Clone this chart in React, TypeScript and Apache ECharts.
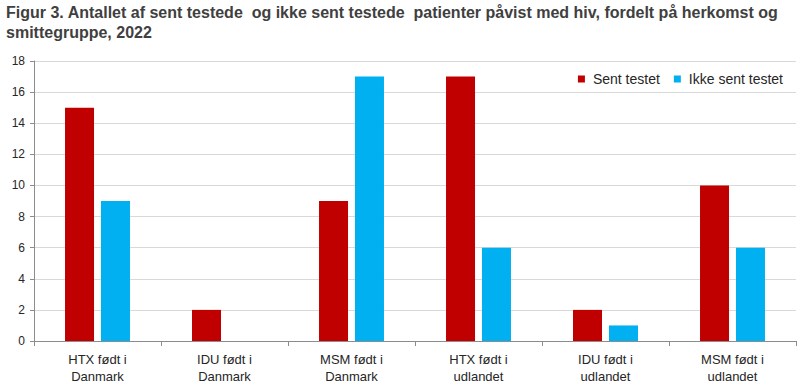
import React, { useEffect, useRef } from "react";
import * as echarts from "echarts";

const categories = [
  "HTX født i\nDanmark",
  "IDU født i\nDanmark",
  "MSM født i\nDanmark",
  "HTX født i\nudlandet",
  "IDU født i\nudlandet",
  "MSM født i\nudlandet",
];
const sentTestet = [15, 2, 9, 17, 2, 10];
const ikkeSentTestet = [9, 0, 17, 6, 1, 6];
const seriesNames = ["Sent testet", "Ikke sent testet"];
const titleText =
  "Figur 3. Antallet af sent testede  og ikke sent testede  patienter påvist med hiv, fordelt på herkomst og\nsmittegruppe, 2022";

export default function App() {
  const ref = useRef<HTMLDivElement>(null);
  useEffect(() => {
    if (!ref.current) return;
    const chart = echarts.init(ref.current, undefined, { renderer: "svg" });
    const font = "'Liberation Sans', 'DejaVu Sans', sans-serif";
    chart.setOption({
      animation: false,
      backgroundColor: "#ffffff",
      textStyle: { fontFamily: font },
      title: {
        text: titleText,
        left: 1,
        top: -3,
        textStyle: {
          fontFamily: font,
          fontSize: 16,
          fontWeight: "bold",
          color: "#404040",
          lineHeight: 20,
        },
      },
      legend: {
        data: seriesNames,
        right: 12,
        top: 67,
        icon: "rect",
        itemWidth: 7,
        itemHeight: 7,
        itemGap: 14,
        textStyle: {
          fontFamily: font,
          fontSize: 14,
          color: "#262626",
          padding: [0, 0, 0, 3],
        },
      },
      grid: { left: 34, right: 4, top: 61, bottom: 46, containLabel: false },
      xAxis: {
        type: "category",
        data: categories,
        axisLine: { show: true, lineStyle: { color: "#8c8c8c" } },
        axisTick: { show: true, alignWithLabel: false, length: 5, lineStyle: { color: "#8c8c8c" } },
        axisLabel: {
          fontFamily: font,
          fontSize: 13,
          color: "#262626",
          lineHeight: 17,
          margin: 10,
        },
      },
      yAxis: {
        type: "value",
        min: 0,
        max: 18,
        interval: 2,
        axisLine: { show: true, lineStyle: { color: "#8c8c8c" } },
        axisTick: { show: true, length: 4, lineStyle: { color: "#8c8c8c" } },
        axisLabel: { fontFamily: font, fontSize: 12, color: "#262626", margin: 9 },
        splitLine: { show: true, lineStyle: { color: "#d9d9d9" } },
      },
      series: [
        {
          name: seriesNames[0],
          type: "bar",
          data: sentTestet,
          itemStyle: { color: "#c00000" },
          barWidth: 29,
          barGap: "24%",
        },
        {
          name: seriesNames[1],
          type: "bar",
          data: ikkeSentTestet,
          itemStyle: { color: "#00b0f0" },
          barWidth: 29,
          barGap: "24%",
        },
      ],
    });
    return () => chart.dispose();
  }, []);
  return (
    <div
      ref={ref}
      style={{ position: "fixed", left: 0, top: 0, width: 800, height: 387 }}
    />
  );
}
